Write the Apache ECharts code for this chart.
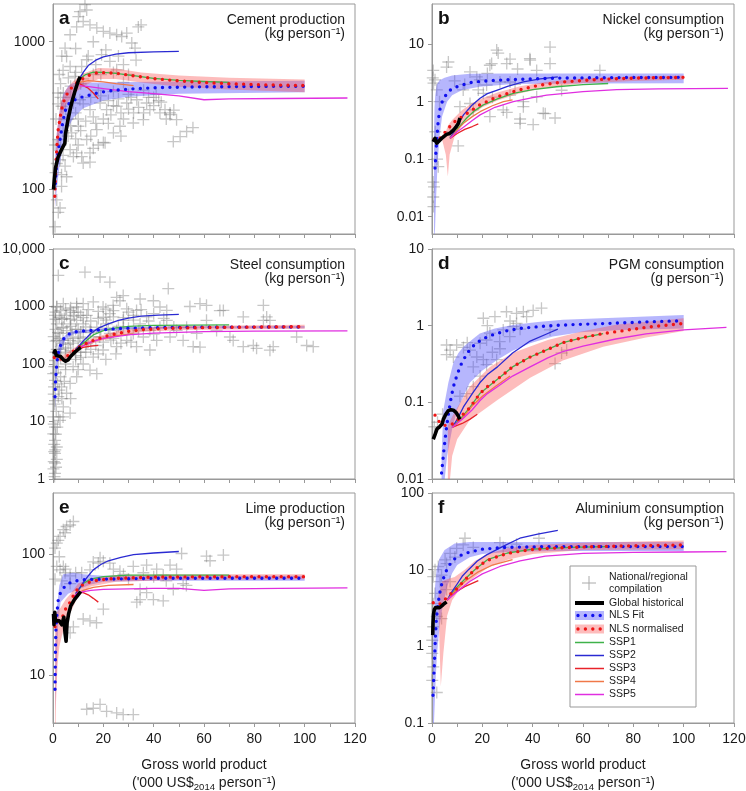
<!DOCTYPE html>
<html>
<head>
<meta charset="utf-8">
<script src="https://cdn.jsdelivr.net/npm/echarts@6/dist/echarts.min.js"></script>
<style>
html,body{margin:0;padding:0;background:#fff;}
#chart{width:746px;height:791px;}
</style>
</head>
<body>
<div id="chart"></div>
<script>
// ---- a: cement production (kg/person) ----
var cementPts = [[12.7,1780],[10.7,1600],[13.4,1640],[10.1,1480],[12,1370],[9.4,1260],[14.7,1300],[17.4,1240],[20,1175],[22.6,1145],[25.3,1115],[27.3,1085],[29.3,1145],[33.9,1260],[31.3,980],[32.6,905],[6.8,1115],[4.8,905],[5.4,795],[6.8,680],[6.1,570],[8.7,583],[11.4,680],[16,1000],[19.3,817],[22.6,736],[25.3,645],[13.4,755],[4.1,450],[3.4,366],[5.4,297],[8.1,385],[10.7,405],[14.7,347],[18.7,385],[21.3,347],[25.3,366],[29.3,385],[33.3,405],[37.2,385],[38.5,347],[42.5,330],[46.5,330],[49.1,297],[7.4,242],[10.1,268],[13.4,218],[17.4,254],[20.7,207],[24,242],[26.6,268],[31.9,282],[35.9,297],[6.8,186],[9.4,177],[12,151],[14.7,177],[4.8,144],[2.8,159],[2.1,218],[3.4,126],[47.8,211],[50.5,228],[53.1,247],[55.6,262],[46.5,321],[44.5,347],[1.5,85],[2.1,70],[0.8,56],[2.8,75],[3.4,105],[5.4,122],[8.1,167],[11.4,167],[14.7,153],[20,208],[35,1300],[28,530],[40,420],[16,600],[18,470],[24,460],[30,440],[36,470],[42,400],[1.2,300],[0.8,200],[2.5,600],[3.5,800],[9,900],[7,420],[11,520],[4,250],[1,130],[2,380],[3,420],[5,350],[6,300],[7,270],[9,330],[10,300],[11,250],[12,380],[13,290],[15,420],[16,310],[17,280],[19,430],[20,300],[22,400],[23,320],[24,370],[26,410],[27,330],[28,300],[30,350],[31,420],[32,330],[34,360],[36,330],[38,420],[40,370],[41,440],[43,390],[45,300],[48,345],[9,220],[15,230],[18,200],[22,280],[27,230],[3,200],[6,230],[1.5,150],[4,170],[10,200],[16,190],[7,500],[9,620],[12,560],[14,800],[17,700],[19,600],[21,880],[24,620],[26,800],[28,700],[30,600],[33,750],[3,520],[4,640],[2,450]];
var cementHist = [[0.2,100],[0.5,115],[1,140],[2,165],[3,180],[4,195],[4.7,205],[5,240],[6,300],[7,360],[8,420],[9,480],[10,540],[10.8,580]];
var cementFit = [[0.9,110],[1.3,140],[2,180],[2.8,218],[3.8,280],[4.8,340],[6.5,385],[8.7,405],[11,420],[13.4,430],[17,448],[21.3,462],[26,472],[31.8,480],[42,490],[58,495],[80,498],[100,500]];
var cementFitHi = [[0.9,170],[1.5,240],[2.5,330],[4,440],[6,500],[8,525],[12,530],[20,530],[40,535],[70,540],[100,545]];
var cementFitLo = [[0.9,75],[1.5,100],[2.5,140],[4,200],[6,260],[8,305],[12,355],[20,400],[30,425],[50,445],[75,450],[100,455]];
var cementNorm = [[0.7,90],[1,125],[1.5,190],[2,250],[3,320],[4,385],[5.5,440],[7,480],[9,520],[12,565],[15,600],[18,620],[25,612],[32,588],[40,563],[50,543],[60,530],[70,520],[85,510],[100,505]];
var cementNormHi = [[0.7,110],[1.5,240],[3,380],[5,470],[8,540],[12,610],[18,665],[25,660],[35,620],[50,590],[70,570],[100,555]];
var cementNormLo = [[0.7,75],[1.5,160],[3,270],[5,370],[8,440],[12,500],[18,560],[25,560],[35,530],[50,495],[70,475],[100,455]];
var cementSSP1 = [[10.5,560],[13,600],[16,622],[20,620],[25,610],[32,590],[40,565],[50,548],[60,538],[70,530]];
var cementSSP2 = [[10.5,560],[12,620],[14,690],[17,750],[20,790],[25,825],[30,842],[40,855],[50,860]];
var cementSSP3 = [[10.5,520],[12,505],[14,485],[16,450],[18,410]];
var cementSSP4 = [[10.5,530],[14,545],[20,535],[25,520],[32,505]];
var cementSSP5 = [[10.5,505],[15,495],[20,482],[30,460],[40,445],[50,430],[60,405],[70,410],[90,413],[117,416]];

// ---- b: nickel consumption (kg/person) ----
var nickelPts = [[0.5,3.5],[1.2,2.4],[6.5,4.9],[5.8,4.0],[1.9,1.6],[15.1,3.3],[17.8,2.7],[23,4.3],[25.7,7.9],[26.3,7.0],[29.7,4.6],[38.9,5.6],[46.9,8.9],[46.9,4.6],[41.6,3.5],[66.7,3.5],[11.1,0.82],[15.1,0.93],[20.4,1.4],[21.7,1.95],[23,0.55],[28.3,0.72],[29.7,0.65],[36.3,0.82],[35,0.42],[40.2,0.4],[44.2,0.63],[48.9,0.52],[41.6,1.22],[36.3,1.0],[10.4,0.17],[7.2,0.3],[2.5,0.074],[0.5,0.04],[0.8,0.033],[0.5,0.022],[0.6,0.015],[12.4,1.6],[18.4,1.6],[31,1.3],[0.3,2.6],[0.6,2.1],[3,1.0],[9,2.3],[13,2.0],[19,2.4],[22,3.1],[27,2.2],[33,2.0],[34,3.7],[31,5.5],[24,1.2],[2,0.1],[1.3,0.3],[35,0.5],[45,0.62],[51.5,1.58],[39,5.3],[23.7,4.6],[31,2.2],[16.4,0.72]];
var nickelHist = [[0.5,0.2],[1.2,0.23],[1.9,0.19],[2.6,0.2],[3.8,0.23],[4.8,0.25],[5.8,0.27],[7,0.28],[8.5,0.32],[9.5,0.36],[10.5,0.42],[11.1,0.52]];
var nickelFit = [[1.2,0.07],[1.5,0.12],[1.9,0.22],[2.5,0.48],[3.2,0.75],[4,0.98],[5,1.2],[6.5,1.5],[8,1.68],[10,1.83],[15,2.14],[20,2.27],[25,2.35],[35,2.45],[50,2.57],[70,2.62],[100,2.65]];
var nickelFitHi = [[0.8,0.3],[1,0.8],[1.3,1.3],[1.9,2.0],[3,2.35],[5,2.6],[8,2.85],[15,3.05],[30,3.1],[100,3.1]];
var nickelFitLo = [[0.8,0.004],[1.2,0.006],[1.6,0.02],[2.2,0.08],[3,0.25],[4,0.55],[6,1.0],[8,1.3],[12,1.59],[19,1.82],[32,2.03],[60,2.08],[100,2.1]];
var nickelNorm = [[0.8,0.22],[2,0.21],[4,0.25],[6,0.33],[9,0.45],[14,0.63],[19,0.88],[26,1.22],[34,1.58],[43,1.95],[52,2.2],[65,2.42],[80,2.57],[100,2.65]];
var nickelNormHi = [[4,0.26],[5.5,0.3],[6.3,0.38],[8,0.48],[12,0.72],[16,0.95],[20,1.15],[26,1.45],[35,1.85],[45,2.2],[60,2.55],[80,2.75],[100,2.85]];
var nickelNormLo = [[4,0.22],[5.5,0.12],[6.3,0.05],[7,0.12],[9,0.25],[12,0.42],[16,0.6],[20,0.8],[26,1.05],[35,1.4],[45,1.75],[60,2.1],[80,2.3],[100,2.4]];
var nickelSSP1 = [[7.2,0.23],[10,0.33],[13.8,0.52],[17,0.7],[20.4,0.88],[26,1.12],[32.3,1.4],[40,1.62],[49.5,1.82],[60,1.98],[70,2.07]];
var nickelSSP2 = [[7.2,0.23],[10,0.38],[12.5,0.59],[16,0.88],[19.1,1.15],[22,1.38],[25.7,1.58],[30,1.85],[36.3,2.22],[43,2.5],[50,2.7]];
var nickelSSP3 = [[7.2,0.23],[10,0.28],[13,0.33],[16,0.37],[18.4,0.41]];
var nickelSSP4 = [[7.2,0.23],[10,0.32],[12.5,0.42],[16,0.55],[19.1,0.67],[24,0.85],[28.4,1.0],[32,1.08]];
var nickelSSP5 = [[7.2,0.23],[10,0.3],[12.5,0.36],[16,0.47],[19.1,0.59],[25,0.8],[32.3,1.0],[40,1.18],[45.6,1.3],[60,1.5],[73.4,1.62],[90,1.67],[117.6,1.71]];

// ---- c: steel consumption (kg/person) ----
var steelPts = [[2.1,3470],[12.7,3960],[18.7,3260],[22.6,2650],[45.8,2050],[1.5,1000],[9.4,1130],[25.3,1440],[27.9,1550],[34.6,1350],[39.9,1260],[54.4,1000],[61,1050],[66.3,850],[83.6,1050],[84.9,660],[86.2,575],[96.8,295],[100.8,210],[103.4,200],[58.4,196],[71.6,257],[79.6,210],[86.2,174],[75.6,660],[1.5,980],[4.1,1120],[6.8,855],[9.4,980],[12,1120],[16,1200],[19.9,980],[23.9,1045],[26.6,1260],[29.3,910],[33.2,855],[37.2,660],[42.5,980],[45.2,575],[49.1,384],[53.1,436],[57.1,340],[61,575],[65,384],[70.3,295],[75.6,200],[80.9,187],[87.5,200],[83.6,575],[67.7,855],[58.4,1120],[1.5,500],[4.1,436],[6.8,500],[9.4,575],[12,500],[14.7,384],[17.4,436],[21.3,500],[25.3,384],[27.9,575],[31.9,340],[35.9,295],[38.5,384],[41.2,257],[29.3,257],[33.2,200],[38.5,175],[25.3,200],[19.9,175],[16,132],[14.7,78],[17.4,68],[12,100],[9.4,60],[6.8,46],[5.4,31],[4.1,18],[6.8,14],[2.8,10.5],[0.8,52],[2.1,89],[1.5,257],[4.1,230],[6.8,257],[10.7,295],[13.4,230],[0.8,700],[0.8,115],[0.8,23],[0.8,8],[0.8,4.7],[0.8,2.8],[0.8,1.9],[0.8,1.25],[1.5,3.6],[1.5,2.2],[0.1,12],[0.1,6.1],[2.1,27],[3.4,40],[0.1,68],[2.8,340],[5.4,700],[8.1,790],[22.6,750],[13.4,700],[31.9,700],[45.2,855],[34.6,500],[42.5,436],[46.5,295],[51.7,257],[55.7,200],[18.6,295],[22.6,340],[0.3,300],[0.3,30],[0.5,3],[0.2,1.5],[1,160],[3,180],[5,160],[8,230],[10,400],[11,700],[3.5,600],[7.5,350],[16,300],[20,650],[28,420],[24,280],[9,120],[11,160],[5,80],[3,60],[7,25],[4,12],[1,800],[3,850],[5,900],[7,950],[10,800],[14,880],[18,820],[21,900],[24,850],[30,800],[35,880],[40,750],[1,600],[2.5,650],[4.5,620],[7,600],[8.5,680],[12,640],[15,560],[18,620],[21,580],[24,660],[28,640],[32,580],[38,560],[44,620],[1,400],[2,350],[3.5,420],[5.5,380],[7,450],[9,400],[11,360],[13,440],[15,350],[19,400],[22,420],[26,450],[30,420],[34,380],[40,330],[48,440],[1,250],[2.5,280],[4,260],[6,220],[8,280],[10,250],[12,280],[14,240],[17,210],[20,240],[23,260],[27,230],[31,240],[1.5,180],[2.5,150],[5,190],[7,170],[9,140],[11,130],[13,160],[15,180],[18,150],[21,120],[25,150],[0.5,90],[1.2,70],[0.4,40],[1.8,45],[0.6,20],[1.3,15],[0.3,9],[1.1,6],[0.5,4],[1.7,8],[0.9,3.2],[0.3,2],[1.2,1.6],[0.6,1.1],[2.5,35],[3.5,25],[2.2,12],[4.5,50],[8,90],[10,80],[3,130],[5,100]];
var steelHist = [[0.3,150],[0.8,170],[1.3,140],[2,130],[3,135],[4,120],[5,112],[6,118],[7,135],[8,150],[9,165],[10,180],[11,195]];
var steelFit = [[0.8,27],[1,50],[1.2,68],[1.5,100],[2,150],[2.8,200],[3.8,255],[4.8,295],[6.5,335],[8.1,360],[12,375],[16,384],[25.3,412],[38.5,428],[54.4,436],[75,438],[100,440]];
var steelFitHi = [[0.8,60],[1.2,120],[2,200],[3,260],[5,320],[8,380],[15,400],[30,440],[60,455],[100,460]];
var steelFitLo = [[0.8,15],[1.2,40],[2,110],[3,160],[5,265],[8,330],[15,360],[30,400],[60,418],[100,420]];
var steelNorm = [[0.5,130],[2,120],[4,125],[6,140],[9,180],[12,215],[16,257],[20,295],[25,335],[30,370],[36,398],[45,415],[52,424],[70,435],[100,446]];
var steelNormHi = [[0.5,140],[4,140],[9,200],[16,285],[25,370],[36,435],[52,460],[100,480]];
var steelNormLo = [[0.5,120],[4,110],[9,160],[16,230],[25,300],[36,365],[52,390],[100,410]];
var steelSSP1 = [[9,180],[12,230],[16,320],[20,380],[25,425],[30,450],[40,468],[55,475],[70,478]];
var steelSSP2 = [[9,180],[10,200],[12,250],[15,340],[18,420],[22,500],[26,575],[30,630],[35,680],[42,710],[50,730]];
var steelSSP3 = [[9,180],[12,195],[15,205],[18,210]];
var steelSSP4 = [[9,180],[12,210],[16,250],[20,280],[25,310],[32,335]];
var steelSSP5 = [[9,180],[15,240],[20,280],[30,320],[40,345],[60,365],[80,372],[117,378]];

// ---- d: PGM consumption (g/person) ----
var pgmPts = [[20.4,1.25],[25,1.31],[29.6,1.52],[33.6,1.45],[36.3,1.52],[40.2,1.58],[43.5,1.69],[37.6,1.31],[32.3,0.97],[33.6,1.07],[28.3,0.88],[23,0.8],[19.1,0.59],[21.7,0.65],[26.9,0.62],[30.9,0.72],[7.2,0.48],[9.8,0.56],[12.5,0.52],[5.8,0.42],[8.5,0.39],[15.1,0.48],[17.8,0.39],[20.4,0.36],[16.4,0.29],[21.7,0.31],[25.7,0.36],[19.1,0.22],[16.4,0.16],[13.8,0.13],[11.1,0.12],[51.5,0.44],[53.5,0.48],[48.9,0.32],[46.9,0.88],[0.9,0.048],[2.2,0.055],[4.2,0.07],[5.8,0.56],[27,0.5],[24,0.45],[14,0.6],[35,0.9],[31,1.15],[22,1.0]];
var pgmHist = [[0.5,0.033],[1.2,0.038],[2,0.045],[3,0.048],[4,0.052],[4.5,0.06],[5.5,0.07],[6.5,0.078],[7.5,0.08],[8.5,0.079],[9.5,0.074],[10.5,0.066],[11,0.06]];
var pgmFit = [[3.8,0.012],[4.2,0.016],[4.8,0.025],[5.5,0.04],[6.5,0.07],[7.5,0.11],[8.5,0.16],[10,0.23],[11.5,0.31],[14,0.44],[17,0.57],[20,0.67],[25,0.78],[30,0.86],[35,0.92],[45,0.99],[55,1.03],[70,1.07],[85,1.12],[100,1.16]];
var pgmFitHi = [[3.8,0.02],[4.5,0.079],[5.5,0.12],[6.5,0.18],[8.5,0.33],[10.5,0.44],[12.5,0.53],[16,0.66],[19,0.79],[25,0.92],[32,1.02],[42,1.12],[52,1.19],[75,1.28],[100,1.38]];
var pgmFitLo = [[3.8,0.004],[6,0.02],[8,0.045],[10,0.08],[12,0.11],[15,0.18],[20,0.26],[26,0.36],[32,0.47],[39,0.59],[48,0.72],[59,0.82],[75,0.88],[100,0.92]];
var pgmNorm = [[1.2,0.068],[3,0.055],[5,0.05],[8,0.052],[10,0.058],[12,0.068],[15,0.085],[19,0.13],[22,0.16],[26,0.2],[32,0.29],[39,0.39],[46,0.49],[52,0.6],[60,0.7],[68,0.79],[75,0.85],[85,0.95],[100,1.07]];
var pgmNormHi = [[6.3,0.05],[8,0.065],[10,0.085],[15,0.16],[23,0.29],[32,0.44],[46,0.65],[59,0.83],[73,1.03],[100,1.25]];
var pgmNormLo = [[6.3,0.005],[8,0.02],[10,0.033],[15,0.059],[26,0.107],[39,0.21],[52,0.35],[68,0.53],[85,0.7],[100,0.85]];
var pgmSSP1 = [[8,0.047],[12,0.065],[15,0.085],[19,0.13],[26,0.2],[32,0.29],[39,0.39],[46,0.49],[52,0.6],[60,0.7],[68,0.79]];
var pgmSSP2 = [[8,0.047],[10,0.06],[12.5,0.087],[16,0.13],[19,0.18],[22,0.23],[26,0.29],[32,0.44],[39,0.63],[46,0.79],[50,0.9]];
var pgmSSP3 = [[8,0.047],[12,0.053],[15,0.06],[18,0.07]];
var pgmSSP4 = [[8,0.047],[12,0.062],[16,0.09],[20,0.12],[25,0.16],[31,0.22]];
var pgmSSP5 = [[8,0.047],[12,0.06],[16,0.08],[19,0.105],[22,0.13],[26,0.16],[32,0.22],[39,0.29],[46,0.38],[52,0.46],[60,0.54],[73,0.67],[85,0.78],[100,0.88],[117,0.95]];

// ---- e: lime production (kg/person) ----
var limePts = [[1.5,123],[2.8,140],[4.1,159],[5.4,169],[6.8,174],[8.1,186],[2.1,130],[4.8,150],[0.8,112],[2.8,74],[4.8,70],[4.1,79],[6.8,66],[0.8,62],[11.4,70],[18.7,93],[20,87],[22.6,84],[18,84],[14.7,74],[31.9,79],[37.2,81],[41.2,75],[46.5,81],[49.1,75],[26.6,72],[35.9,70],[43.8,67],[51.1,101],[61,96],[62.4,88],[67.7,98],[34.6,51],[37.2,48],[39.9,42],[43.8,41],[47.8,51],[51.7,57],[34.6,42],[33.3,40],[12,29],[14.7,28],[17.3,27],[20,35],[6.8,22.3],[8.1,25],[6.8,57],[13.4,5.2],[16,5.3],[18.7,5.7],[21.3,5.0],[25.3,4.85],[27.9,4.7],[31.9,4.7],[1.5,79],[3.5,60],[2.5,95],[5,75],[9,70],[16,86],[24,75],[28,68],[30,62],[40,65],[45,60],[53,55]];
var limeHist = [[0.2,32],[0.4,26],[0.7,33],[1,28],[1.6,27],[2.5,28],[3.5,26],[4.3,30],[4.8,22],[5.2,19],[5.6,27],[6.2,32],[7,37],[8.5,42],[10,46],[11,49]];
var limeFit = [[0.8,7.6],[0.9,12],[1.0,18],[1.2,25],[1.6,33],[2.1,42],[3,48],[4,52],[6,57],[9,60],[13,61.5],[20,62],[40,63],[70,63],[100,63]];
var limeFitHi = [[1,15],[1.5,35],[2.5,55],[4,68],[8,70],[12,68],[20,66],[40,66],[100,66]];
var limeFitLo = [[1,5],[1.5,12],[2,25],[3,40],[6,47],[10,51],[15,56],[20,59],[40,60],[100,60]];
var limeNorm = [[0.8,25],[2,27],[3,27],[4,31],[5,35],[6.5,39],[8.5,47],[10,52],[12,56],[15,59],[18,61],[25,63],[40,64.5],[70,65],[100,65]];
var limeNormHi = [[0.8,30],[1.5,33],[3,36],[5,42],[7,47],[10,57],[15,63],[25,67],[50,68],[100,68]];
var limeNormLo = [[0.8,2],[1.2,6],[1.8,12],[2.5,17],[3.5,21],[5,27],[7,33],[10,45],[15,54],[25,59],[50,61],[100,62]];
var limeSSP1 = [[9,47],[12,57],[15,62],[20,65],[30,67],[50,67],[70,67]];
var limeSSP2 = [[9,47],[10.5,52],[12,58],[14,66],[16,74],[19,82],[22,88],[27,94],[32,99],[40,102],[50,105]];
var limeSSP3 = [[8,44],[10,48],[12,48],[14,46],[16,43],[18,40]];
var limeSSP4 = [[9,46],[12,50],[16,53],[22,55],[32,56]];
var limeSSP5 = [[8,44],[10,48],[15,50],[20,51],[30,51.5],[40,52],[50,52],[60,50],[70,51.5],[90,52],[117,52.5]];

// ---- f: aluminium consumption (kg/person) ----
var aluPts = [[13.1,25.7],[12.4,21],[9.8,19],[7.2,16.3],[5.2,13.4],[2.5,11],[1.2,10],[0.5,8.1],[3.8,8.5],[5.8,12],[9.1,14.6],[16.4,19.5],[28.3,19.5],[33.6,21.5],[27,22.5],[42.5,25.7],[1.2,4.9],[0.5,3.6],[1.9,2.45],[3.8,2.3],[0.5,1.8],[0.1,1.2],[0.1,0.81],[0.5,0.54],[0.1,0.36],[1.9,0.25],[3.2,7],[7.2,7],[5.8,5.5]];
var aluHist = [[0.3,1.4],[0.4,2.0],[0.6,2.6],[0.9,3.0],[1.4,3.2],[2,3.1],[3,3.2],[4,3.4],[4.8,3.6],[5.3,3.4],[5.8,3.8]];
var aluFit = [[0.4,0.23],[0.7,0.4],[1.0,0.65],[1.3,1.2],[1.7,2.2],[2.2,3.2],[3,4.8],[4,6.8],[5.2,8.9],[6.5,11],[8.5,13.5],[11,15.2],[14,16.6],[20,18.5],[30,19.6],[50,20],[75,20],[100,20]];
var aluFitHi = [[0.4,1],[0.8,3],[1.2,6],[1.8,10],[3,14],[5,18],[9,22],[15,23],[30,23],[100,23]];
var aluFitLo = [[0.4,0.05],[1,0.15],[1.5,0.4],[2,0.8],[3,1.8],[4,3],[6,6],[8,9],[10,11.5],[15,14.5],[20,16],[30,17],[50,17.5],[100,17.5]];
var aluNorm = [[0.5,3.7],[2,3.5],[3.5,3.6],[5.5,4.2],[7,4.7],[9,5.3],[11,6.2],[13,7.3],[15,8.6],[17,10],[20,12],[23,13.6],[27,15.2],[31,16.5],[36,17.6],[41,18.5],[50,19.2],[60,19.8],[80,20.5],[100,21]];
var aluNormHi = [[2.5,4.5],[4,7],[6,7.5],[9,8],[13,10],[17,13],[22,16],[30,19],[40,21],[60,22.5],[100,24]];
var aluNormLo = [[2.5,3.5],[3.5,0.3],[4.5,0.8],[6,2.5],[8,4],[10,5],[13,6.2],[17,8],[22,10.5],[30,13.5],[40,16],[60,18],[100,18.5]];
var aluSSP1 = [[6,4],[9,5.5],[13,7.5],[17,10],[22,13.5],[30,16.5],[40,18.5],[55,19.5],[70,20]];
var aluSSP2 = [[6,4],[8,5.2],[10,6.5],[12,8.2],[14.5,10],[18,13],[21.7,15.6],[28,20],[34.9,25.7],[42,29],[50,32.5]];
var aluSSP3 = [[6,4],[9,5],[13,6],[18.4,7.2]];
var aluSSP4 = [[6,4],[9,5.2],[13,7],[18,9.2],[24,11.5],[32,13.5]];
var aluSSP5 = [[6,4],[10,5.2],[15,7],[20,8.8],[27,11],[35,13],[45,15],[60,16.3],[80,16.8],[100,17],[117,17.2]];

// ---- axis ranges / tick labels ----
var xTicks = [0, 20, 40, 60, 80, 100, 120];
var cementTicks = [100, 1000];
var nickelTicks = [0.01, 0.1, 1, 10];
var steelTicks = [1, 10, 100, 1000, 10000];
var pgmTicks = [0.01, 0.1, 1, 10];
var limeTicks = [10, 100];
var aluTicks = [0.1, 1, 10, 100];
var legendNames = ['National/regional\ncompilation', 'Global historical', 'NLS Fit', 'NLS normalised', 'SSP1', 'SSP2', 'SSP3', 'SSP4', 'SSP5'];

var FONT = '"Liberation Sans", Arial, Helvetica, sans-serif';
var PLUS = 'path://M4.9,0H6.1V4.9H11V6.1H6.1V11H4.9V6.1H0V4.9H4.9Z';
var SSP_COLORS = ['#3fb24a', '#2a2ad2', '#e8232a', '#f07848', '#e02ee0'];
var FIT_BAND = 'rgba(80,80,250,0.42)';
var NORM_BAND = 'rgba(250,80,80,0.38)';
var GRAY = '#999';

var panels = [
  {letter: 'a', title: 'Cement production', unit: '(kg person\u207b\u00b9)', min: 50, max: 1800, ticks: cementTicks,
   pts: cementPts, hist: cementHist, fit: cementFit, fitHi: cementFitHi, fitLo: cementFitLo, norm: cementNorm, normHi: cementNormHi, normLo: cementNormLo,
   ssp: [cementSSP1, cementSSP2, cementSSP3, cementSSP4, cementSSP5]},
  {letter: 'b', title: 'Nickel consumption', unit: '(kg person\u207b\u00b9)', min: 0.005, max: 50, ticks: nickelTicks,
   pts: nickelPts, hist: nickelHist, fit: nickelFit, fitHi: nickelFitHi, fitLo: nickelFitLo, norm: nickelNorm, normHi: nickelNormHi, normLo: nickelNormLo,
   ssp: [nickelSSP1, nickelSSP2, nickelSSP3, nickelSSP4, nickelSSP5]},
  {letter: 'c', title: 'Steel consumption', unit: '(kg person\u207b\u00b9)', min: 1, max: 10000, ticks: steelTicks,
   pts: steelPts, hist: steelHist, fit: steelFit, fitHi: steelFitHi, fitLo: steelFitLo, norm: steelNorm, normHi: steelNormHi, normLo: steelNormLo,
   ssp: [steelSSP1, steelSSP2, steelSSP3, steelSSP4, steelSSP5]},
  {letter: 'd', title: 'PGM consumption', unit: '(g person\u207b\u00b9)', min: 0.01, max: 10, ticks: pgmTicks,
   pts: pgmPts, hist: pgmHist, fit: pgmFit, fitHi: pgmFitHi, fitLo: pgmFitLo, norm: pgmNorm, normHi: pgmNormHi, normLo: pgmNormLo,
   ssp: [pgmSSP1, pgmSSP2, pgmSSP3, pgmSSP4, pgmSSP5]},
  {letter: 'e', title: 'Lime production', unit: '(kg person\u207b\u00b9)', min: 4, max: 320, ticks: limeTicks,
   pts: limePts, hist: limeHist, fit: limeFit, fitHi: limeFitHi, fitLo: limeFitLo, norm: limeNorm, normHi: limeNormHi, normLo: limeNormLo,
   ssp: [limeSSP1, limeSSP2, limeSSP3, limeSSP4, limeSSP5]},
  {letter: 'f', title: 'Aluminium consumption', unit: '(kg person\u207b\u00b9)', min: 0.1, max: 100, ticks: aluTicks,
   pts: aluPts, hist: aluHist, fit: aluFit, fitHi: aluFitHi, fitLo: aluFitLo, norm: aluNorm, normHi: aluNormHi, normLo: aluNormLo,
   ssp: [aluSSP1, aluSSP2, aluSSP3, aluSSP4, aluSSP5]}
];

// left/top of each plot box
var boxes = [[53, 4], [432, 4], [53, 249], [432, 249], [53, 493], [432, 493]];
var BOX_W = 302, BOX_H = 230;

function fmtY(v) {
  return v === 10000 ? '10,000' : String(v);
}

function band(i, hi, lo, color) {
  return {
    type: 'custom', xAxisIndex: i, yAxisIndex: i, silent: true, clip: true, z: 2,
    data: [[0, 1]],
    renderItem: function (params, api) {
      var pts = hi.map(function (p) { return api.coord(p); })
        .concat(lo.slice().reverse().map(function (p) { return api.coord(p); }));
      return {type: 'polygon', shape: {points: pts}, style: {fill: color}};
    }
  };
}

function line(i, data, color, width, dotted, z) {
  return {
    type: 'line', xAxisIndex: i, yAxisIndex: i, data: data, silent: true,
    showSymbol: false, symbol: 'none', z: z, clip: true,
    lineStyle: {color: color, width: width, type: dotted ? [0, 7.4] : 'solid', cap: dotted ? 'round' : 'butt', join: 'round'}
  };
}

var grids = [], xAxes = [], yAxes = [], series = [], titles = [];

panels.forEach(function (p, i) {
  var bx = boxes[i][0], by = boxes[i][1];
  var bottom = i >= 4;
  grids.push({left: bx, top: by, width: BOX_W, height: BOX_H, show: true, borderColor: GRAY, borderWidth: 1,
    outerBoundsMode: 'none', containLabel: false});
  xAxes.push({
    gridIndex: i, type: 'value', min: 0, max: 120, interval: 10,
    axisLine: {show: true, onZero: false, lineStyle: {color: GRAY, width: 1}},
    axisTick: {show: true, inside: false, length: 4, lineStyle: {color: GRAY}},
    axisLabel: {show: bottom, margin: 9, fontSize: 14, color: '#1a1a1a', fontFamily: FONT,
      formatter: function (v) { return xTicks.indexOf(v) >= 0 ? String(v) : ''; }},
    splitLine: {show: false},
    name: bottom ? "Gross world product\n('000 US${sub|2014} person\u207b\u00b9)" : '',
    nameLocation: 'middle', nameGap: 33,
    nameTextStyle: {fontSize: 14, color: '#1a1a1a', fontFamily: FONT, lineHeight: 18,
      rich: {sub: {fontSize: 9.5, fontFamily: FONT, color: '#1a1a1a', verticalAlign: 'bottom', lineHeight: 8}}}
  });
  yAxes.push({
    gridIndex: i, type: 'log', logBase: 10, min: p.min, max: p.max,
    axisLine: {show: true, lineStyle: {color: GRAY, width: 1}},
    axisTick: {show: true, inside: false, length: 4, customValues: p.ticks, lineStyle: {color: GRAY}},
    axisLabel: {show: true, margin: 8, fontSize: 14, color: '#1a1a1a', fontFamily: FONT, customValues: p.ticks, formatter: fmtY},
    minorTick: {show: false},
    splitLine: {show: false}
  });

  series.push({
    type: 'scatter', xAxisIndex: i, yAxisIndex: i, data: p.pts, silent: true, clip: true, z: 1,
    symbol: PLUS, symbolSize: 12, itemStyle: {color: 'rgba(115,115,115,0.5)'}
  });
  series.push(band(i, p.fitHi, p.fitLo, FIT_BAND));
  series.push(band(i, p.normHi, p.normLo, NORM_BAND));
  p.ssp.forEach(function (d, k) {
    series.push(line(i, d, SSP_COLORS[k], 1.3, false, 3));
  });
  series.push(line(i, p.fit, '#1010ee', 3.4, true, 4));
  series.push(line(i, p.norm, '#ee1515', 3.4, true, 5));
  series.push(line(i, p.hist, '#000', 3.6, false, 6));

  titles.push({text: p.letter, left: bx + 6, top: by + 5, padding: 0, textAlign: 'left', textVerticalAlign: 'top',
    textStyle: {fontSize: 19, fontWeight: 'bold', color: '#111', fontFamily: FONT, lineHeight: 19}});
  titles.push({text: p.title + '\n' + p.unit, left: bx + BOX_W - 10, top: by + 9, padding: 0, textAlign: 'right', textVerticalAlign: 'top',
    textStyle: {fontSize: 14, fontWeight: 'normal', color: '#1a1a1a', fontFamily: FONT, lineHeight: 14, align: 'right'}});
});

// legend box inside panel f
var LX = 570, LY = 566, TX = 609;
var rowY = [583, 603, 615.5, 629, 642.5, 655.5, 668.5, 681.5, 694.5];
var legendFont = {fontSize: 10.5, fontFamily: FONT, fill: '#1a1a1a', verticalAlign: 'middle', align: 'left'};
var graphics = [
  {type: 'rect', shape: {x: LX, y: LY, width: 126, height: 141}, style: {fill: '#fff', stroke: GRAY, lineWidth: 1}, z: 100},
  {type: 'line', shape: {x1: 582, y1: rowY[0], x2: 596, y2: rowY[0]}, style: {stroke: '#aaa', lineWidth: 1}, z: 101},
  {type: 'line', shape: {x1: 589, y1: rowY[0] - 7, x2: 589, y2: rowY[0] + 7}, style: {stroke: '#aaa', lineWidth: 1}, z: 101},
  {type: 'line', shape: {x1: 575, y1: rowY[1], x2: 604, y2: rowY[1]}, style: {stroke: '#000', lineWidth: 4}, z: 101},
  {type: 'rect', shape: {x: 575, y: rowY[2] - 4.5, width: 29, height: 9}, style: {fill: FIT_BAND}, z: 101},
  {type: 'line', shape: {x1: 578, y1: rowY[2], x2: 604, y2: rowY[2]}, style: {stroke: '#1010ee', lineWidth: 3.4, lineDash: [0, 7.4], lineCap: 'round'}, z: 102},
  {type: 'rect', shape: {x: 575, y: rowY[3] - 4.5, width: 29, height: 9}, style: {fill: NORM_BAND}, z: 101},
  {type: 'line', shape: {x1: 578, y1: rowY[3], x2: 604, y2: rowY[3]}, style: {stroke: '#ee1515', lineWidth: 3.4, lineDash: [0, 7.4], lineCap: 'round'}, z: 102}
];
SSP_COLORS.forEach(function (c, k) {
  graphics.push({type: 'line', shape: {x1: 575, y1: rowY[4 + k], x2: 604, y2: rowY[4 + k]}, style: {stroke: c, lineWidth: 1.5}, z: 101});
});
legendNames.forEach(function (name, k) {
  graphics.push({type: 'text', x: TX, y: rowY[k], z: 103,
    style: Object.assign({text: name, lineHeight: 12.5}, legendFont)});
});

var chart = echarts.init(document.getElementById('chart'), null, {renderer: 'canvas'});
chart.setOption({
  animation: false,
  backgroundColor: '#fff',
  textStyle: {fontFamily: FONT},
  title: titles,
  grid: grids,
  xAxis: xAxes,
  yAxis: yAxes,
  series: series,
  graphic: graphics
});
</script>
</body>
</html>
